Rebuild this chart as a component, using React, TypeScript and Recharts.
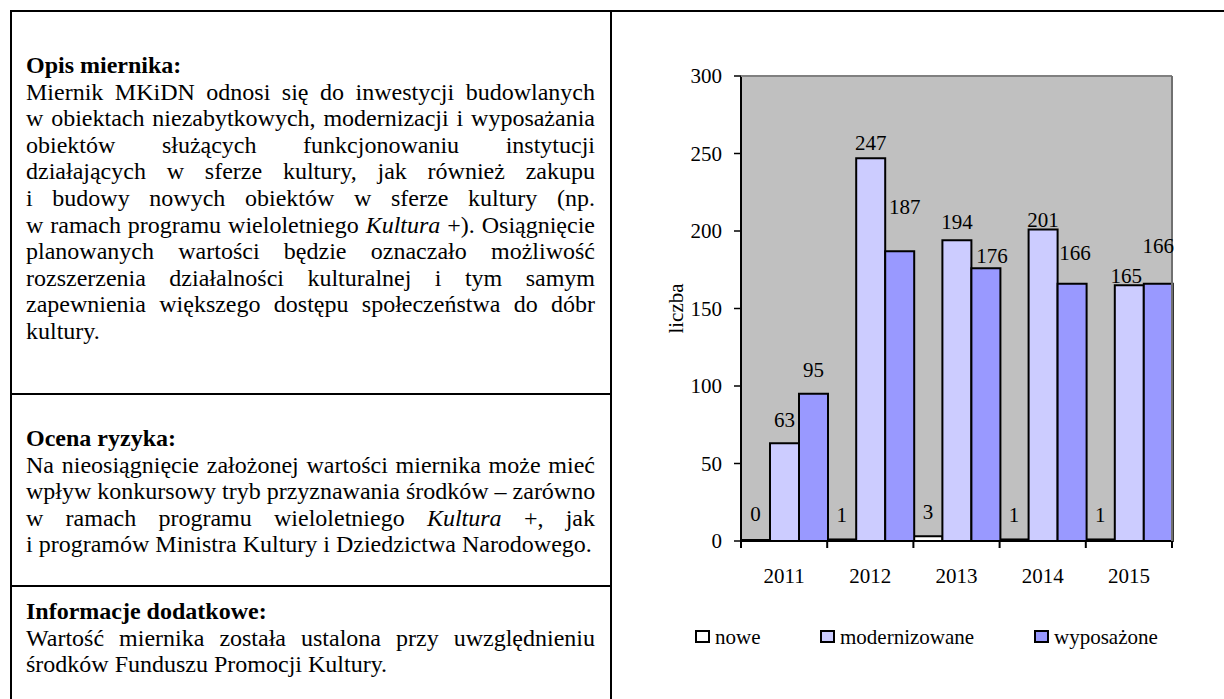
import { BarChart, Bar, XAxis, YAxis, CartesianGrid, LabelList } from 'recharts';

const years = ['2011', '2012', '2013', '2014', '2015'];
const nowe = [0, 1, 3, 1, 1];
const modernizowane = [63, 247, 194, 201, 165];
const wyposazone = [95, 187, 176, 166, 166];
const yTicks = [0, 50, 100, 150, 200, 250, 300];

const SERIES = [
  { key: 'nowe', name: 'nowe', fill: '#FFFFFF' },
  { key: 'modernizowane', name: 'modernizowane', fill: '#CCCCFF' },
  { key: 'wyposazone', name: 'wyposażone', fill: '#9999FF' },
];

// Excel nudged a few labels to dodge each other; px above the bar top / sideways
const LIFT: Record<string, number[]> = {
  nowe: [26, 24, 24, 24, 24],
  modernizowane: [23, 15, 18, 9, 9],
  wyposazone: [24, 44, 12, 31, 38],
};
const SHIFT: Record<string, number[]> = {
  nowe: [0, 0, 0, 0, 0],
  modernizowane: [0, 0, 0, 0, -3],
  wyposazone: [0, 5, 6, 3, 0],
};

const data = years.map((year, i) => ({
  year,
  nowe: nowe[i],
  modernizowane: modernizowane[i],
  wyposazone: wyposazone[i],
}));

const SERIF = '"Liberation Serif", "Times New Roman", Times, serif';
const CHART_W = 612;
const CHART_H = 600;
const M = { top: 63, right: 51, left: 69, bottom: 31 };
const PLOT_W = CHART_W - M.left - 60 - M.right - 1;
const BAND = PLOT_W / years.length;

const makeLabel = (key: string) => (p: any) => {
  const vb = p.viewBox ?? p;
  const i = p.index ?? 0;
  const cx = vb.x + vb.width / 2 + SHIFT[key][i];
  const cy = vb.y - LIFT[key][i];
  return (
    <text x={cx} y={cy} textAnchor="middle" dominantBaseline="central"
          fontFamily={SERIF} fontSize={21} fill="#000">
      {String(p.value)}
    </text>
  );
};

function XTick(p: any) {
  const { x, y, payload, index } = p;
  const left = x - BAND / 2;
  return (
    <g>
      <line x1={left} y1={y} x2={left} y2={y + 7} stroke="#000" strokeWidth={2} />
      {index === years.length - 1 && (
        <line x1={x + BAND / 2} y1={y} x2={x + BAND / 2} y2={y + 7} stroke="#000" strokeWidth={2} />
      )}
      <text x={x} y={y + 35} textAnchor="middle" dominantBaseline="central"
            fontFamily={SERIF} fontSize={21} fill="#000">
        {payload.value}
      </text>
    </g>
  );
}

function YTitle(p: any) {
  const vb = p.viewBox;
  const cx = vb.x - 5;
  const cy = vb.y + vb.height / 2;
  return (
    <text x={cx} y={cy} transform={`rotate(-90, ${cx}, ${cy})`} textAnchor="middle"
          dominantBaseline="central" fontFamily={SERIF} fontSize={21} fill="#000">
      liczba
    </text>
  );
}

type Line = { text: React.ReactNode; last?: boolean };

const opis: Line[] = [
  { text: 'Miernik MKiDN odnosi się do inwestycji budowlanych' },
  { text: 'w obiektach niezabytkowych, modernizacji i wyposażania' },
  { text: 'obiektów służących funkcjonowaniu instytucji' },
  { text: 'działających w sferze kultury, jak również zakupu' },
  { text: 'i budowy nowych obiektów w sferze kultury (np.' },
  { text: <>w ramach programu wieloletniego <i>Kultura</i> +). Osiągnięcie</> },
  { text: 'planowanych wartości będzie oznaczało możliwość' },
  { text: 'rozszerzenia działalności kulturalnej i tym samym' },
  { text: 'zapewnienia większego dostępu społeczeństwa do dóbr' },
  { text: 'kultury.', last: true },
];

const ryzyko: Line[] = [
  { text: 'Na nieosiągnięcie założonej wartości miernika może mieć' },
  { text: 'wpływ konkursowy tryb przyznawania środków – zarówno' },
  { text: <>w ramach programu wieloletniego <i>Kultura</i> +, jak</> },
  { text: 'i programów Ministra Kultury i Dziedzictwa Narodowego.', last: true },
];

const dodatkowe: Line[] = [
  { text: 'Wartość miernika została ustalona przy uwzględnieniu' },
  { text: 'środków Funduszu Promocji Kultury.', last: true },
];

function Cell({ top, title, lines }: { top: number; title: string; lines: Line[] }) {
  return (
    <div style={{ position: 'absolute', left: 26, top, width: 569, fontSize: 24, lineHeight: '26.6px' }}>
      <div style={{ fontWeight: 700 }}>{title}</div>
      {lines.map((l, i) => (
        <div key={i} style={{
          whiteSpace: 'nowrap',
          textAlign: l.last ? 'left' : 'justify',
          textAlignLast: l.last ? 'left' : 'justify',
        }}>
          {l.text}
        </div>
      ))}
    </div>
  );
}

const LEGEND_X = [695, 820, 1034];

export default function App() {
  return (
    <div style={{
      position: 'absolute', left: 0, top: 0, width: 1224, height: 699, overflow: 'hidden',
      background: '#fff', fontFamily: SERIF, color: '#000',
    }}>
      <div style={{ position: 'absolute', left: 10, top: 10, width: 1400, height: 900, border: '2px solid #000', boxSizing: 'border-box' }} />
      <div style={{ position: 'absolute', left: 610, top: 10, width: 2, height: 700, background: '#000' }} />
      <div style={{ position: 'absolute', left: 10, top: 393, width: 602, height: 2, background: '#000' }} />
      <div style={{ position: 'absolute', left: 10, top: 585, width: 602, height: 2, background: '#000' }} />

      <Cell top={52} title="Opis miernika:" lines={opis} />
      <Cell top={425} title="Ocena ryzyka:" lines={ryzyko} />
      <Cell top={598} title="Informacje dodatkowe:" lines={dodatkowe} />

      <div style={{ position: 'absolute', left: 612, top: 12 }}>
        <BarChart width={CHART_W} height={CHART_H} data={data} margin={M} barCategoryGap={0} barGap={0}>
          <CartesianGrid horizontal={false} vertical={false} fill="#C0C0C0" />
          {SERIES.map((s) => (
            <Bar key={s.key} dataKey={s.key} name={s.name} fill={s.fill} stroke="#000" strokeWidth={2}
                 minPointSize={1} isAnimationActive={false}>
              <LabelList dataKey={s.key} content={makeLabel(s.key)} />
            </Bar>
          ))}
          <XAxis dataKey="year" interval={0} tickSize={0} tickMargin={0} height={40}
                 axisLine={{ stroke: '#000', strokeWidth: 2 }} tickLine={false} tick={<XTick />} />
          <YAxis domain={[0, 300]} ticks={yTicks} interval={0} width={60} tickSize={7} tickMargin={12}
                 axisLine={{ stroke: '#000', strokeWidth: 2 }} tickLine={{ stroke: '#000', strokeWidth: 1.5 }}
                 tick={{ fontFamily: SERIF, fontSize: 21, fill: '#000' }} label={<YTitle />} />
          <XAxis xAxisId="t" orientation="top" dataKey="year" height={1} tick={false} tickLine={false}
                 axisLine={{ stroke: '#808080', strokeWidth: 2 }} />
          <YAxis yAxisId="r" orientation="right" domain={[0, 300]} width={1} tick={false} tickLine={false}
                 axisLine={{ stroke: '#707070', strokeWidth: 2 }} />
        </BarChart>
      </div>

      {SERIES.map((s, i) => (
        <div key={s.key}>
          <div style={{
            position: 'absolute', left: LEGEND_X[i], top: 630, width: 15, height: 13,
            background: s.fill, border: '2px solid #000', boxSizing: 'border-box',
          }} />
          <div style={{ position: 'absolute', left: LEGEND_X[i] + 20, top: 625, fontSize: 21, lineHeight: '24px' }}>
            {s.name}
          </div>
        </div>
      ))}
    </div>
  );
}
